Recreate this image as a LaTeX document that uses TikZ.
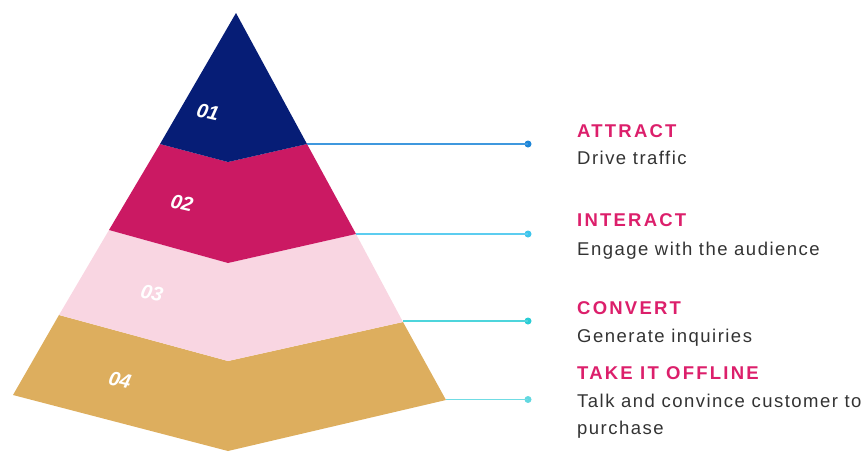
\documentclass[tikz,border=0pt]{standalone}
\usepackage{fontspec}
\setmainfont{Liberation Sans}
\newfontfamily\headfont[LetterSpace=12]{Liberation Sans}
\newfontfamily\bodyfont[LetterSpace=8]{Liberation Sans}
\definecolor{navy}{HTML}{061D76}
\definecolor{berry}{HTML}{CB1963}
\definecolor{blush}{HTML}{F9D6E2}
\definecolor{sand}{HTML}{DDAE5E}
\definecolor{heading}{HTML}{DC1F6B}
\definecolor{bodytext}{HTML}{333333}
\definecolor{linkA}{HTML}{3F98DE}
\definecolor{dotA}{HTML}{1E86D8}
\definecolor{linkB}{HTML}{5CCDF0}
\definecolor{dotB}{HTML}{3EC5EC}
\definecolor{linkC}{HTML}{4ED5DC}
\definecolor{dotC}{HTML}{2ACDD5}
\definecolor{linkD}{HTML}{70DCE4}
\definecolor{dotD}{HTML}{62D8E0}
\tikzset{
  band/.style={draw=none},
  stepnum/.style={text=white, font=\bfseries\itshape\fontsize{20}{20}\selectfont, rotate=-13, inner sep=0pt},
  title/.style={anchor=base west, inner sep=0pt, text=heading, font=\headfont\bfseries\fontsize{18.5}{18.5}\selectfont},
  desc/.style={anchor=base west, inner sep=0pt, text=bodytext, align=left, font=\bodyfont\fontsize{18.5}{27.5}\selectfont},
  link/.style={line width=1.8pt},
  enddot/.style={circle, inner sep=0pt, minimum size=7pt},
}
\begin{document}
\begin{tikzpicture}[x=1pt, y=-1pt]
\useasboundingbox (0,0) rectangle (868,451);

% pyramid outline points
\coordinate (apex) at (236,13);
\coordinate (l1) at (160,144); \coordinate (m1) at (228,162); \coordinate (r1) at (307,144);
\coordinate (l2) at (109,230); \coordinate (m2) at (228,263); \coordinate (r2) at (356,234);
\coordinate (l3) at (59,315);  \coordinate (m3) at (228,361); \coordinate (r3) at (403,322);
\coordinate (l4) at (13,395);  \coordinate (m4) at (228,451); \coordinate (r4) at (446,400);

% bands
\fill[band, sand]  (l3) -- (m3) -- (r3) -- (r4) -- (m4) -- (l4) -- cycle;
\fill[band, blush] (l2) -- (m2) -- (r2) -- (r3) -- (m3) -- (l3) -- cycle;
\fill[band, berry] (l1) -- (m1) -- (r1) -- (r2) -- (m2) -- (l2) -- cycle;
\fill[band, navy]  (apex) -- (r1) -- (m1) -- (l1) -- cycle;

% band numbers
\node[stepnum] (n1) at (208,112) {01};
\node[stepnum] (n2) at (182,203) {02};
\node[stepnum] (n3) at (152,293) {03};
\node[stepnum] (n4) at (120,380) {04};

% connector end dots
\node[enddot, fill=dotA] (d1) at (528,144) {};
\node[enddot, fill=dotB] (d2) at (528,234) {};
\node[enddot, fill=dotC] (d3) at (528,321) {};
\node[enddot, fill=dotD] (d4) at (528,399.5) {};

% connectors
\coordinate (c3) at (403,321);
\coordinate (c4) at (446,399.5);
\draw[link, linkA] (r1) -- (d1.center);
\draw[link, linkB] (r2) -- (d2.center);
\draw[link, linkC] (c3) -- (d3.center);
\draw[link, linkD] (c4) -- (d4.center);

% labels
\node[title] (t1) at (577,137.5) {ATTRACT};
\node[desc]  (s1) at (577,164) {Drive traffic};
\node[title] (t2) at (577,226.5) {INTERACT};
\node[desc]  (s2) at (577,255.5) {Engage with the audience};
\node[title] (t3) at (577,314.5) {CONVERT};
\node[desc]  (s3) at (577,342) {Generate inquiries};
\node[title] (t4) at (577,379) {TAKE IT OFFLINE};
\node[desc]  (s4) at (577,434.5) {Talk and convince customer to\\purchase};
\end{tikzpicture}
\end{document}
